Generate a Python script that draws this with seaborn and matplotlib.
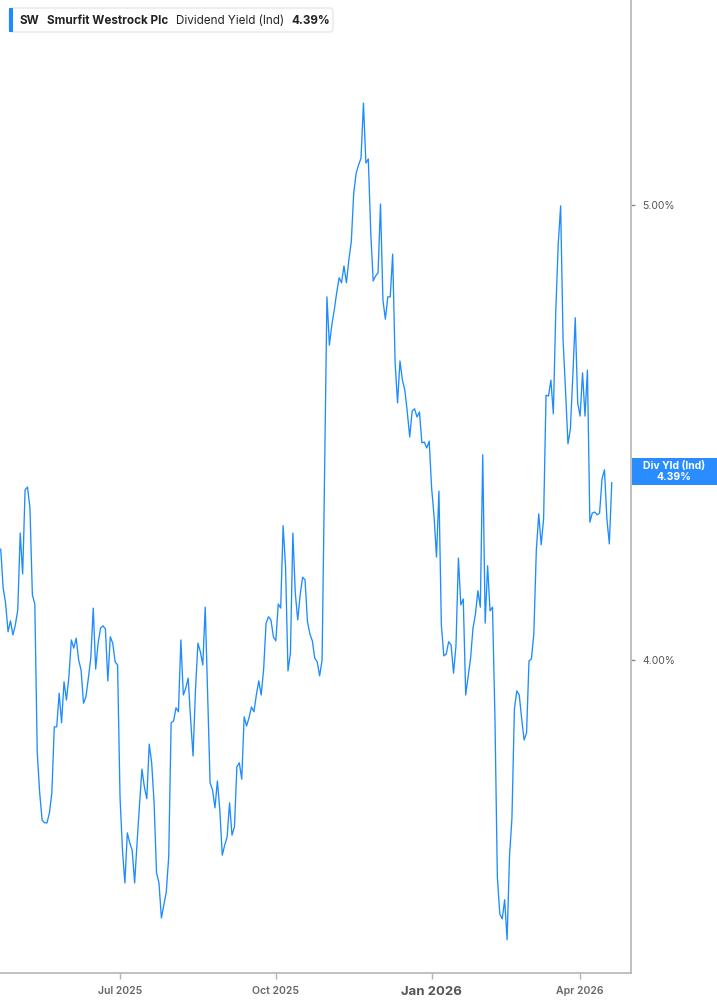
import numpy as np
import pandas as pd
import matplotlib
matplotlib.use("Agg")
import matplotlib.pyplot as plt
import seaborn as sns
from matplotlib.patches import FancyBboxPatch, Rectangle

# ---------------- data ----------------
start_date = "2025-04-21"
end_date = "2026-04-21"
market_holidays = ["2025-05-26", "2025-06-19", "2025-07-04", "2025-09-01", "2025-11-27",
                   "2025-12-25", "2026-01-01", "2026-01-19", "2026-02-16", "2026-04-03"]

div_yield = [
    # Apr - Jun 2025
    4.244, 4.158, 4.125, 4.062, 4.086, 4.055, 4.077, 4.110, 4.279, 4.189,
    4.374, 4.380, 4.334, 4.143, 4.123, 3.796, 3.708, 3.648, 3.642, 3.642,
    3.664, 3.708, 3.853, 3.853, 3.927, 3.862, 3.952, 3.912, 3.963, 4.044,
    4.026, 4.048, 4.000, 3.978, 3.905, 3.919, 3.960, 4.004, 4.114, 3.980,
    4.037, 4.070, 4.075, 4.068, 3.954, 4.051,
    # Jul - Sep 2025
    4.037, 3.996, 3.989, 3.699, 3.582, 3.510, 3.620, 3.598, 3.582, 3.510,
    3.598, 3.681, 3.760, 3.721, 3.695, 3.815, 3.774, 3.686, 3.532, 3.510,
    3.433, 3.462, 3.490, 3.567, 3.862, 3.866, 3.895, 3.886, 4.044, 3.923,
    3.938, 3.960, 3.870, 3.789, 3.934, 4.037, 4.018, 3.989, 4.116, 3.919,
    3.730, 3.714, 3.675, 3.734, 3.670,
    3.571, 3.593, 3.611, 3.686, 3.615, 3.633, 3.765, 3.774, 3.738, 3.875,
    3.855, 3.873, 3.897, 3.886, 3.923, 3.954, 3.923, 3.980, 4.081, 4.095,
    4.088, 4.051,
    # Oct - Dec 2025
    4.042, 4.123, 4.114, 4.295, 4.204, 3.976, 4.015, 4.279, 4.147, 4.088,
    4.143, 4.182, 4.176, 4.084, 4.057, 4.042, 4.004, 3.996, 3.965, 4.000,
    4.400, 4.798, 4.692, 4.736, 4.769, 4.807, 4.840, 4.829, 4.866, 4.829,
    4.879, 4.919, 5.026, 5.070, 5.088, 5.103, 5.224, 5.092, 5.101, 4.938,
    4.833, 4.844, 4.851, 5.002, 4.791, 4.749, 4.798, 4.798, 4.892, 4.653,
    4.565, 4.657, 4.615, 4.593, 4.545, 4.490, 4.547, 4.552, 4.534, 4.545,
    4.477, 4.479, 4.466, 4.481,
    # Jan - Mar 2026
    4.378, 4.316, 4.226, 4.371, 4.077, 4.009, 4.013, 4.040, 4.033, 3.971,
    4.031, 4.224, 4.121, 4.134, 3.923, 3.963, 4.004, 4.070, 4.101, 4.152,
    4.116, 4.451, 4.081, 4.207, 4.108, 4.116, 3.877, 3.523, 3.442, 3.431,
    3.473, 3.385, 3.569, 3.653, 3.892, 3.932, 3.923,
    3.870, 3.824, 3.840, 3.998, 4.002, 4.059, 4.240, 4.321, 4.253, 4.310,
    4.582, 4.580, 4.615, 4.541, 4.767, 4.914, 4.998, 4.703, 4.593, 4.475,
    4.508, 4.624, 4.752, 4.565,
    # Apr 2026
    4.536, 4.631, 4.536, 4.637, 4.303, 4.323, 4.325, 4.319, 4.323, 4.398,
    4.418, 4.310, 4.255, 4.390,
]

y_ticks = [4.0, 5.0]
y_tick_labels = ["4.00%", "5.00%"]
x_tick_months = ["2025-07", "2025-10", "2026-01", "2026-04"]
x_tick_labels = ["Jul 2025", "Oct 2025", "Jan 2026", "Apr 2026"]

ticker = "SW"
company = "Smurfit Westrock Plc"
metric = "Dividend Yield (Ind)"
last_label = "4.39%"
tag_text = "Div Yld (Ind)\n4.39%"

# ---------------- build ----------------
dates = pd.bdate_range(start_date, end_date, freq="C", holidays=market_holidays)
n = min(len(dates), len(div_yield))
df = pd.DataFrame({"date": dates[:n], "value": div_yield[:n]})
df["idx"] = np.arange(n)

sns.set_style("white")
plt.rcParams["font.family"] = ["Inter", "DejaVu Sans"]

W, H = 717, 1005
fig = plt.figure(figsize=(W / 100, H / 100), dpi=100)
ax_left, ax_right, ax_top, ax_bottom = 0, 631, 0, 973
ax = fig.add_axes([ax_left / W, 1 - ax_bottom / H, (ax_right - ax_left) / W, (ax_bottom - ax_top) / H])

blue = "#1e8cff"
sns.lineplot(data=df, x="idx", y="value", ax=ax, color=blue, linewidth=0.95)

ax.set_xlim(-0.3, 258.9)
ax.set_ylim(3.312, 5.4505)

# spines
for s in ["left", "top"]:
    ax.spines[s].set_visible(False)
for s in ["right", "bottom"]:
    ax.spines[s].set_color("#b5b5b5")
    ax.spines[s].set_linewidth(1.2)

# y axis on right
ax.yaxis.tick_right()
ax.set_yticks(y_ticks)
ax.set_yticklabels(y_tick_labels)
ax.tick_params(axis="y", which="both", right=True, left=False, length=3, width=1,
               color="#888888", pad=5, labelsize=7.5, labelcolor="#555555")

# x ticks at first trading day of each month
month_str = df["date"].dt.strftime("%Y-%m")
tick_pos = [int(df.loc[month_str == m, "idx"].iloc[0]) for m in x_tick_months]
ax.set_xticks(tick_pos)
ax.set_xticklabels(x_tick_labels)
ax.tick_params(axis="x", bottom=True, length=4, width=1, color="#b5b5b5", pad=5,
               labelsize=7.5, labelcolor="#666666")
for lab in ax.get_xticklabels():
    if lab.get_text().startswith("Jan"):
        lab.set_fontsize(9.5)
        lab.set_fontweight("bold")
        lab.set_color("#555555")
    else:
        lab.set_fontweight("semibold")
ax.set_xlabel("")
ax.set_ylabel("")
ax.grid(False)

# legend box (top-left)
def fx(px):
    return px / W

def fy(py):
    return 1 - py / H

box = FancyBboxPatch((fx(9), fy(32)), fx(333) - fx(9), fy(8) - fy(32),
                     boxstyle="round,pad=0,rounding_size=0.004", transform=fig.transFigure,
                     facecolor="white", edgecolor="#e2e2e2", linewidth=0.8, zorder=5)
fig.patches.append(box)
bar = Rectangle((fx(9), fy(32)), fx(13) - fx(9), fy(8) - fy(32), transform=fig.transFigure,
                facecolor=blue, edgecolor="none", zorder=6)
fig.patches.append(bar)

ty = fy(20.5)
tkw = dict(fontsize=8.4, color="#222222", va="center", ha="left", zorder=8)
fig.text(fx(20), ty, ticker, fontweight="bold", **tkw)
fig.text(fx(47), ty, company, fontweight="bold", **tkw)
fig.text(fx(176), ty, metric, **tkw)
fig.text(fx(291), ty, last_label, fontweight="bold", **tkw)

# right-side value tag
tag = Rectangle((fx(632), fy(485)), fx(717) - fx(632), fy(458) - fy(485), transform=fig.transFigure,
                facecolor="#2a8dff", edgecolor="none", zorder=6)
fig.patches.append(tag)
fig.text(fx(674), fy(471.5), tag_text, fontsize=7.5, fontweight="bold", color="white",
         ha="center", va="center", linespacing=1.0, zorder=8)

fig.savefig("out.png", dpi=100, facecolor="white")
